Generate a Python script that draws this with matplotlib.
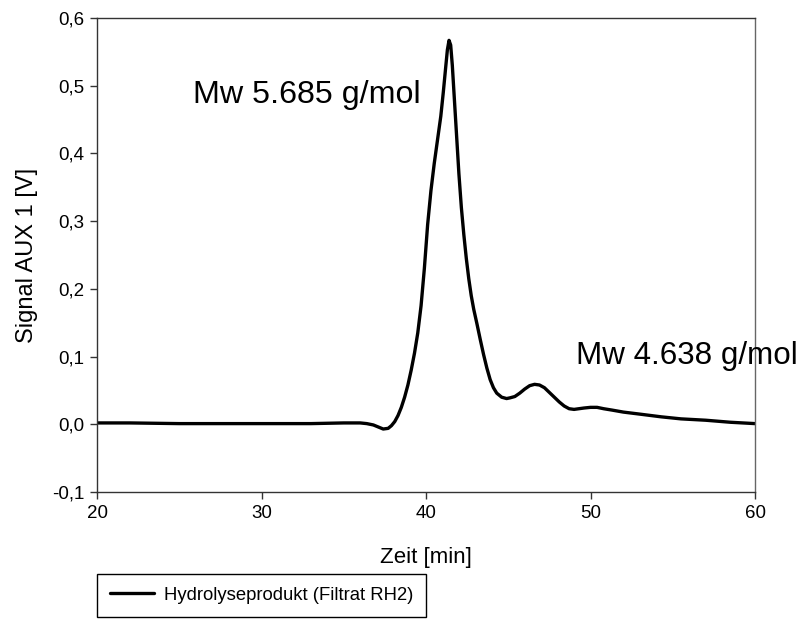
import matplotlib
matplotlib.use("Agg")
import matplotlib.pyplot as plt

plt.rcParams['font.family'] = ['Liberation Sans', 'DejaVu Sans']

# Data
zeit = [20, 22, 25, 28, 30, 33, 35, 36.0, 36.4, 36.8, 37.1, 37.4, 37.7, 37.9, 38.1,
        38.3, 38.5, 38.7, 38.9, 39.1, 39.3, 39.5, 39.7, 39.9, 40.1, 40.3, 40.5,
        40.7, 40.9, 41.05, 41.2, 41.3, 41.4, 41.5, 41.6, 41.7, 41.85, 42.0, 42.15,
        42.3, 42.45, 42.6, 42.75, 42.9, 43.1, 43.3, 43.5, 43.7, 43.9, 44.1, 44.3,
        44.6, 44.9, 45.1, 45.4, 45.7, 46.0, 46.3, 46.6, 46.9, 47.2, 47.5, 47.8,
        48.1, 48.4, 48.7, 49.0, 49.3, 49.6, 50.0, 50.4, 50.8, 51.3, 52.0, 53.0,
        54.3, 55.5, 57.0, 58.5, 60.0]
signal = [0.002, 0.002, 0.001, 0.001, 0.001, 0.001, 0.002, 0.002, 0.001, -0.001, -0.004,
          -0.007, -0.006, -0.002, 0.004, 0.013, 0.025, 0.040, 0.058, 0.080, 0.105,
          0.135, 0.175, 0.230, 0.295, 0.345, 0.385, 0.420, 0.455, 0.490, 0.528, 0.553,
          0.567, 0.560, 0.530, 0.490, 0.430, 0.370, 0.320, 0.280, 0.245, 0.215, 0.190,
          0.170, 0.148, 0.125, 0.103, 0.083, 0.066, 0.054, 0.046, 0.040, 0.038, 0.039,
          0.041, 0.046, 0.052, 0.057, 0.059, 0.058, 0.054, 0.047, 0.040, 0.033, 0.027,
          0.023, 0.022, 0.023, 0.024, 0.025, 0.025, 0.023, 0.021, 0.018, 0.015, 0.011,
          0.008, 0.006, 0.003, 0.001]

x_ticks = [20, 30, 40, 50, 60]
y_ticks = [-0.1, 0.0, 0.1, 0.2, 0.3, 0.4, 0.5, 0.6]
y_tick_labels = ['-0,1', '0,0', '0,1', '0,2', '0,3', '0,4', '0,5', '0,6']

series_label = 'Hydrolyseprodukt (Filtrat RH2)'
annot1 = 'Mw 5.685 g/mol'
annot2 = 'Mw 4.638 g/mol'

W, H = 803, 619
fig = plt.figure(figsize=(W / 100, H / 100), dpi=100)
ax = fig.add_axes([97 / W, 1 - 492 / H, (755 - 97) / W, (492 - 18) / H])

line, = ax.plot(zeit, signal, color='black', lw=2.4, solid_joinstyle='round',
                solid_capstyle='round', label=series_label)

ax.set_xlim(20, 60)
ax.set_ylim(-0.1, 0.6)
ax.set_xticks(x_ticks)
ax.set_xticklabels([str(t) for t in x_ticks])
ax.set_yticks(y_ticks)
ax.set_yticklabels(y_tick_labels)
ax.tick_params(direction='out', length=5, width=1, labelsize=13.5, pad=4, color='#333333')

for s in ax.spines.values():
    s.set_linewidth(1.0)
    s.set_color('#333333')
ax.spines['right'].set_color('#666666')

ax.set_xlabel('Zeit [min]', fontsize=16, labelpad=18)
ax.set_ylabel('Signal AUX 1 [V]', fontsize=17, labelpad=10)

ax.text(25.84, 0.474, annot1, fontsize=23.2, va='baseline', ha='left')
ax.text(49.09, 0.089, annot2, fontsize=22.6, va='baseline', ha='left', clip_on=False)

leg = fig.legend(handles=[line], loc='upper left',
                 bbox_to_anchor=(97 / W, 1 - 574 / H), fontsize=13.3,
                 fancybox=False, edgecolor='black', framealpha=1,
                 borderpad=0.7, handlelength=2.4, handletextpad=0.5, borderaxespad=0)
leg.get_frame().set_linewidth(1.0)

fig.savefig('out.png', dpi=100)
